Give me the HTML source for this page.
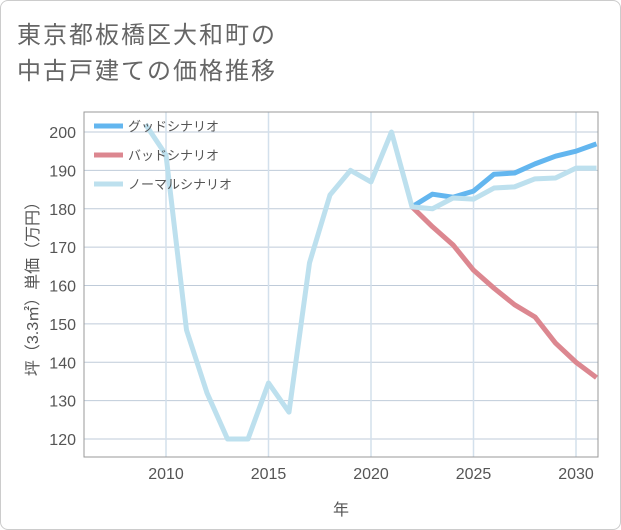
<!DOCTYPE html>
<html><head><meta charset="utf-8"><style>
body{margin:0;background:#fff;}
#wrap{position:relative;width:621px;height:530px;overflow:hidden;font-family:"Liberation Sans","Noto Sans CJK JP",sans-serif;}
#frame{position:absolute;left:0;top:0;width:619px;height:528px;border:1px solid #ccc;border-radius:8px;}
.title{position:absolute;left:17px;font-size:24px;color:#666;letter-spacing:2px;white-space:nowrap;}
svg{position:absolute;left:0;top:0;}
</style></head><body>
<div id="wrap">
<div id="frame"></div>
<div class="title" style="top:15px">東京都板橋区大和町の</div>
<div class="title" style="top:51px">中古戸建ての価格推移</div>
<svg id="chart" width="621" height="530"></svg>
</div>
<script>
const years=[2009,2010,2011,2012,2013,2014,2015,2016,2017,2018,2019,2020,2021,2022,2023,2024,2025,2026,2027,2028,2029,2030,2031];
const normalValues=[202,194,148.4,132,120,120,134.6,127,165.9,183.6,190,187,200,180.5,180,182.8,182.5,185.4,185.7,187.8,188,190.6,190.6];
const goodYears=[2022,2023,2024,2025,2026,2027,2028,2029,2030,2031];
const goodValues=[180.5,183.8,183,184.6,189,189.3,191.7,193.7,195,196.9];
const badValues=[180.5,175.3,170.6,164,159.3,155,151.8,145,140,136];
const yTicks=[120,130,140,150,160,170,180,190,200];
const xTicks=[2010,2015,2020,2025,2030];
const seriesNames=["グッドシナリオ","バッドシナリオ","ノーマルシナリオ"];

const L=84,R=598,T=112,B=457;
const x=v=>166+(v-2010)*20.5;
const y=v=>132+(200-v)*3.8375;
const svg=document.getElementById('chart');
const NS='http://www.w3.org/2000/svg';
function mk(tag,attrs,parent){const e=document.createElementNS(NS,tag);for(const k in attrs)e.setAttribute(k,attrs[k]);(parent||svg).appendChild(e);return e;}

for(const t of yTicks){
  const g=mk('line',{x1:L,x2:R,y1:y(t),y2:y(t),stroke:'#bfcbd9','stroke-width':1});
  
  
  const lb=mk('text',{x:76,y:y(t)+6,'text-anchor':'end','font-size':16,fill:'#555'});
  lb.textContent=t;
  
  
}
for(const t of xTicks){
  const g=mk('line',{x1:x(t),x2:x(t),y1:T,y2:B,stroke:'#d3e0ec','stroke-width':1.5});
  
  
  const lb=mk('text',{x:x(t),y:479,'text-anchor':'middle','font-size':16,fill:'#555'});
  lb.textContent=t;
  
  
}
const fr=mk('rect',{x:L,y:T,width:R-L,height:B-T,fill:'none',stroke:'#999','stroke-width':1});



function path(xs,vs){return xs.map((d,i)=>(i?'L':'M')+x(d)+','+y(vs[i])).join(' ');}
const clip=mk('clipPath',{id:'pc'});mk('rect',{x:L,y:T-10,width:R-L,height:B-T+10},clip);
const good=mk('path',{d:path(goodYears,goodValues),fill:'none',stroke:'#63b6ef','stroke-width':5,'stroke-linejoin':'round','clip-path':'url(#pc)'});


const bad=mk('path',{d:path(goodYears,badValues),fill:'none',stroke:'#dc8790','stroke-width':5,'stroke-linejoin':'round','clip-path':'url(#pc)'});


const normal=mk('path',{d:path(years,normalValues),fill:'none',stroke:'#bde0ee','stroke-width':5,'stroke-linejoin':'round','clip-path':'url(#pc)'});



const colors=['#63b6ef','#dc8790','#bde0ee'];
seriesNames.forEach((n,i)=>{
  const yy=126+i*29;
  const ln=mk('line',{x1:94,x2:123,y1:yy,y2:yy,stroke:colors[i],'stroke-width':5});
  
  
  const tx=mk('text',{x:128,y:yy+5,'font-size':13,fill:'#555'});
  tx.textContent=n;
  
  
});
const xt=mk('text',{x:341,y:515,'text-anchor':'middle','font-size':16,fill:'#555'});
xt.textContent='年';


const yt=mk('text',{x:0,y:0,'text-anchor':'middle','font-size':16,fill:'#555',transform:'translate(38,285) rotate(-90)'});
yt.textContent='坪（3.3㎡）単価（万円）';


</script>
</body></html>
